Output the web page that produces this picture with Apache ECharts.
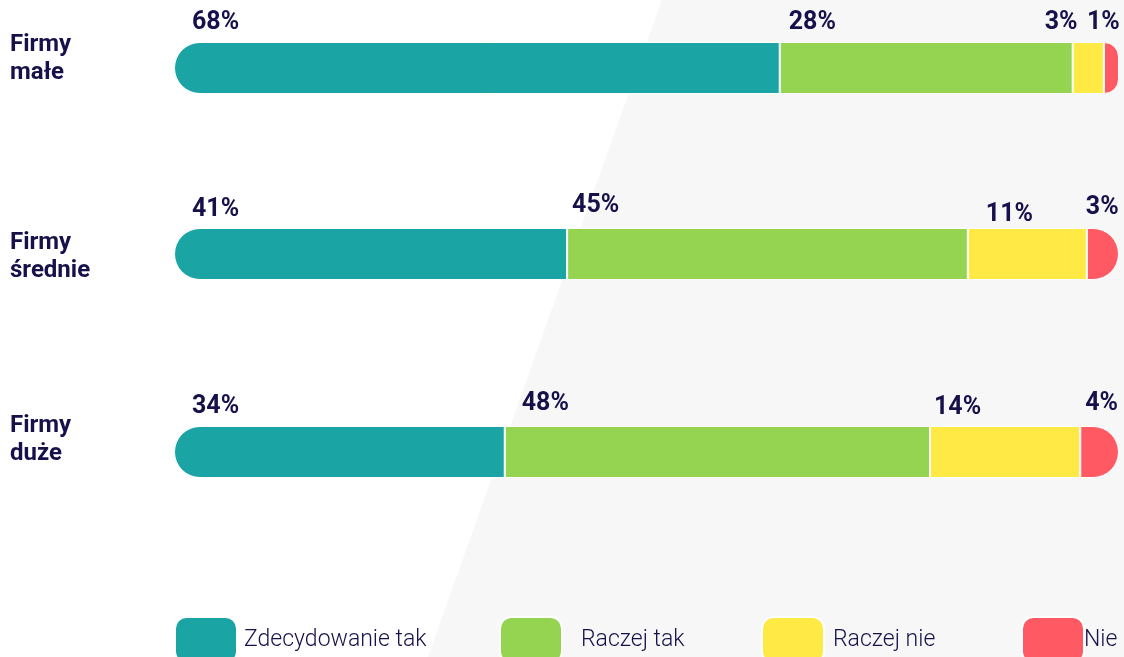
<!DOCTYPE html>
<html>
<head>
<meta charset="utf-8">
<script src="https://cdn.jsdelivr.net/npm/echarts@6/dist/echarts.min.js"></script>
<style>
  html, body { margin: 0; padding: 0; background: #fff; }
  #chart { width: 1124px; height: 657px; }
</style>
</head>
<body>
<div id="chart"></div>
<script>
// dane
var categories = ["Firmy\nmałe", "Firmy\nśrednie", "Firmy\nduże"];
var seriesNames = ["Zdecydowanie tak", "Raczej tak", "Raczej nie", "Nie"];
// długości pasków (w % szerokości)
var zdecydowanieTak = [64.1, 41.6, 35.0];
var raczejTak = [31.0, 42.4, 45.0];
var raczejNie = [3.3, 12.6, 15.9];
var nie = [1.6, 3.4, 4.1];
// etykiety wyświetlane nad paskami
var labelsZdecydowanieTak = [68, 41, 34];
var labelsRaczejTak = [28, 45, 48];
var labelsRaczejNie = [3, 11, 14];
var labelsNie = [1, 3, 4];

var values = [zdecydowanieTak, raczejTak, raczejNie, nie];
var labels = [labelsZdecydowanieTak, labelsRaczejTak, labelsRaczejNie, labelsNie];
var colors = ["#1aa5a4", "#95d451", "#ffe945", "#ff5a64"];
var navy = "#16114a";

// przesunięcia etykiet [dx, dy] względem lewego górnego rogu segmentu
var labelNudge = [
  [[18, -19], [18, -18], [18, -19]],
  [[9, -19], [5, -22], [17, -22]],
  [[-28, -19], [18, -13], [4, -18]],
  [[-17, -19], [-1, -20], [5, -22]]
];
var barCenters = [68, 254, 452];
var catTop = [31, 229, 412]; // górna krawędź opisu kategorii

var chart = echarts.init(document.getElementById("chart"));

var grids = [], xAxes = [], yAxes = [], series = [], titles = [];
categories.forEach(function (cat, i) {
  grids.push({ left: 174, right: 5, top: barCenters[i] - 30, height: 60 });
  xAxes.push({ gridIndex: i, type: "value", min: 0, max: 100, show: false });
  yAxes.push({
    gridIndex: i,
    type: "category",
    data: [cat],
    show: false
  });
  // opis kategorii po lewej stronie
  titles.push({
    text: cat,
    left: 10,
    top: catTop[i],
    padding: 0,
    textStyle: {
      fontFamily: "Roboto",
      fontWeight: "bold",
      fontSize: 24,
      lineHeight: 28,
      color: navy
    }
  });
  seriesNames.forEach(function (name, s) {
    var radius = s === 0 ? [26, 0, 0, 26] : s === 3 ? [0, 26, 26, 0] : 0;
    series.push({
      name: name,
      type: "bar",
      stack: "s" + i,
      xAxisIndex: i,
      yAxisIndex: i,
      barWidth: 52,
      itemStyle: { color: colors[s], borderColor: "#fff", borderWidth: 1, borderRadius: radius },
      label: {
        show: true,
        position: labelNudge[s][i],
        align: "left",
        verticalAlign: "middle",
        fontFamily: "Roboto",
        fontWeight: "bold",
        fontSize: 25,
        color: navy,
        formatter: labels[s][i] + "%"
      },
      emphasis: { disabled: true },
      data: [values[s][i]]
    });
  });
});

var legendLeft = [174, 499, 761, 1021];
var legendTextGap = [9, 21, 11, 2];
var legends = seriesNames.map(function (name, s) {
  return {
    data: [name],
    left: legendLeft[s],
    top: 616,
    padding: 0,
    itemWidth: 62,
    itemHeight: 46,
    icon: "roundRect",
    selectedMode: false,
    textStyle: {
      fontFamily: "Roboto",
      fontWeight: 300,
      fontSize: 23,
      color: navy,
      padding: [0, 0, 6, legendTextGap[s] - 7]
    }
  };
});

chart.setOption({
  backgroundColor: "#fff",
  animation: false,
  graphic: [{
    type: "polygon",
    z: -100,
    silent: true,
    shape: { points: [[662, 0], [1124, 0], [1124, 657], [428, 657]] },
    style: { fill: "#f7f7f7" }
  }],
  title: titles,
  legend: legends,
  grid: grids,
  xAxis: xAxes,
  yAxis: yAxes,
  series: series
});
</script>
</body>
</html>
